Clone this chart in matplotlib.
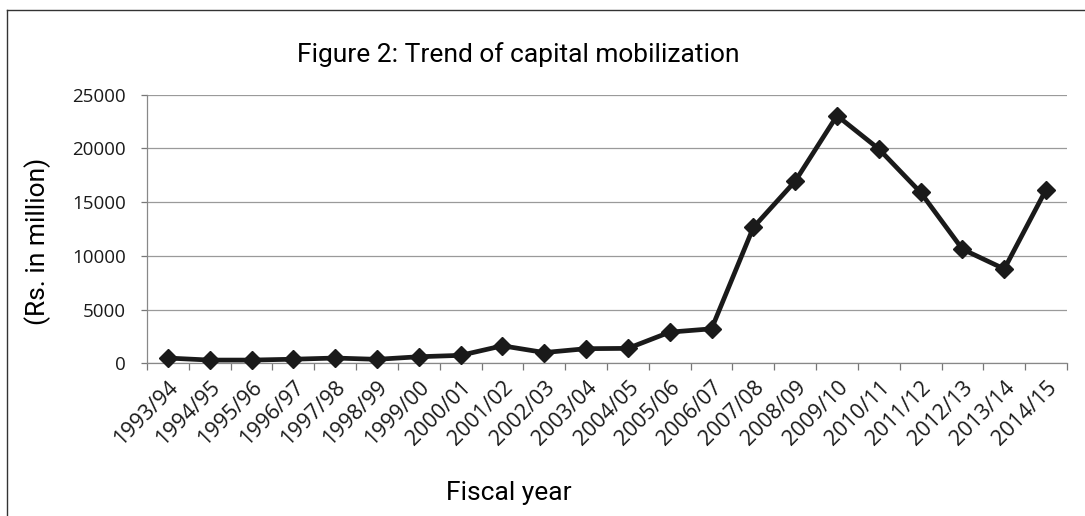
import numpy as np
import matplotlib.pyplot as plt
from matplotlib.lines import Line2D

years = ['1993/94', '1994/95', '1995/96', '1996/97', '1997/98', '1998/99',
         '1999/00', '2000/01', '2001/02', '2002/03', '2003/04', '2004/05',
         '2005/06', '2006/07', '2007/08', '2008/09', '2009/10', '2010/11',
         '2011/12', '2012/13', '2013/14', '2014/15']
capital = [490, 300, 300, 380, 490, 370, 610, 740, 1630, 1000, 1360, 1390,
           2900, 3210, 12650, 16950, 23050, 19950, 15900, 10620, 8780, 16170]
yticks = [0, 5000, 10000, 15000, 20000, 25000]

W, H = 1085, 516
fig = plt.figure(figsize=(W / 100, H / 100), dpi=100)
ax = fig.add_axes([147 / W, 1 - 363.3 / H, 920 / W, 268.6 / H])

x = np.arange(len(years))
ax.plot(x, capital, color='#1a1a1a', lw=3.4, marker='D', ms=9.5,
        mec='#1a1a1a', mfc='#1a1a1a', zorder=3, clip_on=False)

ax.set_xlim(-0.5, len(years) - 0.5)
ax.set_ylim(0, 25000)
ax.set_yticks(yticks)
ax.set_yticklabels([str(v) for v in yticks], family='Open Sans', fontsize=13.5,
                   color='#1a1a1a')
ax.yaxis.grid(True, color='#9a9a9a', lw=0.9)
ax.set_axisbelow(True)

ax.set_xticks(x)
ax.set_xticklabels(years, rotation=45, ha='right', va='top',
                   rotation_mode='anchor', family='Open Sans', fontsize=15.5,
                   color='#1a1a1a')
ax.set_xticks(np.arange(-0.5, len(years), 1), minor=True)
ax.tick_params(axis='x', which='major', length=0, pad=10)
ax.tick_params(axis='x', which='minor', length=5, color='#777777', width=0.9)
ax.tick_params(axis='y', length=4, color='#777777', width=0.9, pad=11)

for s in ['top', 'right']:
    ax.spines[s].set_visible(False)
for s in ['left', 'bottom']:
    ax.spines[s].set_color('#888888')
    ax.spines[s].set_linewidth(0.9)

fig.text(518 / W, 1 - 55 / H, 'Figure 2: Trend of capital mobilization',
         family='Roboto', fontsize=19, ha='center', va='center')
fig.text(509 / W, 1 - 493 / H, 'Fiscal year', family='Roboto', fontsize=19,
         ha='center', va='center')
fig.text(38 / W, 1 - 241 / H, '(Rs. in million)', family='Roboto', fontsize=19,
         ha='center', va='center', rotation=90)

# outer frame of the figure box
fig.add_artist(Line2D([7 / W, 7 / W], [0, 1 - 10 / H], color='#333333', lw=1.0))
fig.add_artist(Line2D([7 / W, 1], [1 - 10 / H, 1 - 10 / H], color='#333333', lw=1.0))

fig.savefig('out.png', dpi=100)
